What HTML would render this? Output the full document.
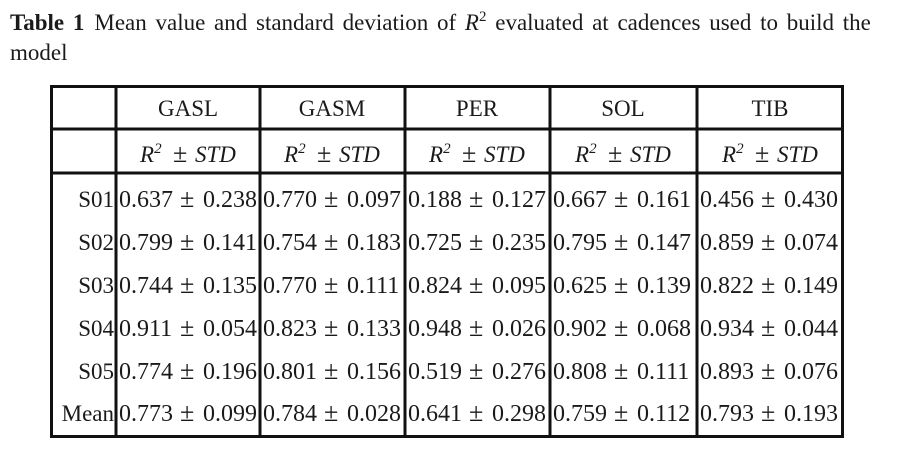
<!DOCTYPE html>
<html><head><style>
html,body{margin:0;padding:0;background:#fff;width:900px;height:473px;overflow:hidden}
svg{display:block}
text{font-family:"Liberation Serif",serif;fill:#1a1a1a}
.p{font-size:26px}
</style></head><body>
<svg width="900" height="473" viewBox="0 0 900 473">
<text x="10" y="30" font-size="23" word-spacing="3"><tspan font-weight="bold">Table 1</tspan><tspan dx="10">Mean value and standard deviation of </tspan><tspan font-style="italic">R</tspan><tspan font-size="15" dy="-9">2</tspan><tspan dy="9"> evaluated at cadences used to build the</tspan></text>
<text x="10" y="60" font-size="23">model</text>
<g stroke="#111" stroke-width="3" fill="none">
<rect x="51.5" y="86.5" width="791" height="350"/>
<line x1="116" y1="86" x2="116" y2="437"/>
<line x1="260" y1="86" x2="260" y2="437"/>
<line x1="405" y1="86" x2="405" y2="437"/>
<line x1="550" y1="86" x2="550" y2="437"/>
<line x1="697" y1="86" x2="697" y2="437"/>
<line x1="51" y1="129" x2="843" y2="129"/>
<line x1="51" y1="173" x2="843" y2="173"/>
</g>
<g font-size="23" text-anchor="middle">
<text x="188" y="116">GASL</text><text x="332" y="116">GASM</text><text x="477" y="116">PER</text><text x="623" y="116">SOL</text><text x="770" y="116">TIB</text>
</g>
<g font-size="23" font-style="italic">
<text y="162"><tspan x="140">R</tspan><tspan font-size="15" dy="-9">2</tspan><tspan dy="9" x="173" font-style="normal" class="p">±</tspan><tspan x="195">STD</tspan></text>
<text y="162"><tspan x="284">R</tspan><tspan font-size="15" dy="-9">2</tspan><tspan dy="9" x="317" font-style="normal" class="p">±</tspan><tspan x="339">STD</tspan></text>
<text y="162"><tspan x="429">R</tspan><tspan font-size="15" dy="-9">2</tspan><tspan dy="9" x="462" font-style="normal" class="p">±</tspan><tspan x="484">STD</tspan></text>
<text y="162"><tspan x="575">R</tspan><tspan font-size="15" dy="-9">2</tspan><tspan dy="9" x="608" font-style="normal" class="p">±</tspan><tspan x="630">STD</tspan></text>
<text y="162"><tspan x="722">R</tspan><tspan font-size="15" dy="-9">2</tspan><tspan dy="9" x="755" font-style="normal" class="p">±</tspan><tspan x="777">STD</tspan></text>
</g>
<g font-size="24">
<g text-anchor="end" font-size="23">
<text x="114" y="207">S01</text><text x="114" y="250">S02</text><text x="114" y="293">S03</text><text x="114" y="336">S04</text><text x="114" y="379">S05</text><text x="114" y="421">Mean</text>
</g>
<text y="207"><tspan x="119">0.637</tspan><tspan x="180" class="p">±</tspan><tspan x="203">0.238</tspan></text>
<text y="207"><tspan x="263">0.770</tspan><tspan x="324" class="p">±</tspan><tspan x="347">0.097</tspan></text>
<text y="207"><tspan x="408">0.188</tspan><tspan x="469" class="p">±</tspan><tspan x="492">0.127</tspan></text>
<text y="207"><tspan x="553">0.667</tspan><tspan x="614" class="p">±</tspan><tspan x="637">0.161</tspan></text>
<text y="207"><tspan x="700">0.456</tspan><tspan x="761" class="p">±</tspan><tspan x="784">0.430</tspan></text>

<text y="250"><tspan x="119">0.799</tspan><tspan x="180" class="p">±</tspan><tspan x="203">0.141</tspan></text>
<text y="250"><tspan x="263">0.754</tspan><tspan x="324" class="p">±</tspan><tspan x="347">0.183</tspan></text>
<text y="250"><tspan x="408">0.725</tspan><tspan x="469" class="p">±</tspan><tspan x="492">0.235</tspan></text>
<text y="250"><tspan x="553">0.795</tspan><tspan x="614" class="p">±</tspan><tspan x="637">0.147</tspan></text>
<text y="250"><tspan x="700">0.859</tspan><tspan x="761" class="p">±</tspan><tspan x="784">0.074</tspan></text>

<text y="293"><tspan x="119">0.744</tspan><tspan x="180" class="p">±</tspan><tspan x="203">0.135</tspan></text>
<text y="293"><tspan x="263">0.770</tspan><tspan x="324" class="p">±</tspan><tspan x="347">0.111</tspan></text>
<text y="293"><tspan x="408">0.824</tspan><tspan x="469" class="p">±</tspan><tspan x="492">0.095</tspan></text>
<text y="293"><tspan x="553">0.625</tspan><tspan x="614" class="p">±</tspan><tspan x="637">0.139</tspan></text>
<text y="293"><tspan x="700">0.822</tspan><tspan x="761" class="p">±</tspan><tspan x="784">0.149</tspan></text>

<text y="336"><tspan x="119">0.911</tspan><tspan x="180" class="p">±</tspan><tspan x="203">0.054</tspan></text>
<text y="336"><tspan x="263">0.823</tspan><tspan x="324" class="p">±</tspan><tspan x="347">0.133</tspan></text>
<text y="336"><tspan x="408">0.948</tspan><tspan x="469" class="p">±</tspan><tspan x="492">0.026</tspan></text>
<text y="336"><tspan x="553">0.902</tspan><tspan x="614" class="p">±</tspan><tspan x="637">0.068</tspan></text>
<text y="336"><tspan x="700">0.934</tspan><tspan x="761" class="p">±</tspan><tspan x="784">0.044</tspan></text>

<text y="379"><tspan x="119">0.774</tspan><tspan x="180" class="p">±</tspan><tspan x="203">0.196</tspan></text>
<text y="379"><tspan x="263">0.801</tspan><tspan x="324" class="p">±</tspan><tspan x="347">0.156</tspan></text>
<text y="379"><tspan x="408">0.519</tspan><tspan x="469" class="p">±</tspan><tspan x="492">0.276</tspan></text>
<text y="379"><tspan x="553">0.808</tspan><tspan x="614" class="p">±</tspan><tspan x="637">0.111</tspan></text>
<text y="379"><tspan x="700">0.893</tspan><tspan x="761" class="p">±</tspan><tspan x="784">0.076</tspan></text>

<text y="421"><tspan x="119">0.773</tspan><tspan x="180" class="p">±</tspan><tspan x="203">0.099</tspan></text>
<text y="421"><tspan x="263">0.784</tspan><tspan x="324" class="p">±</tspan><tspan x="347">0.028</tspan></text>
<text y="421"><tspan x="408">0.641</tspan><tspan x="469" class="p">±</tspan><tspan x="492">0.298</tspan></text>
<text y="421"><tspan x="553">0.759</tspan><tspan x="614" class="p">±</tspan><tspan x="637">0.112</tspan></text>
<text y="421"><tspan x="700">0.793</tspan><tspan x="761" class="p">±</tspan><tspan x="784">0.193</tspan></text>
</g>
</svg>
</body></html>
